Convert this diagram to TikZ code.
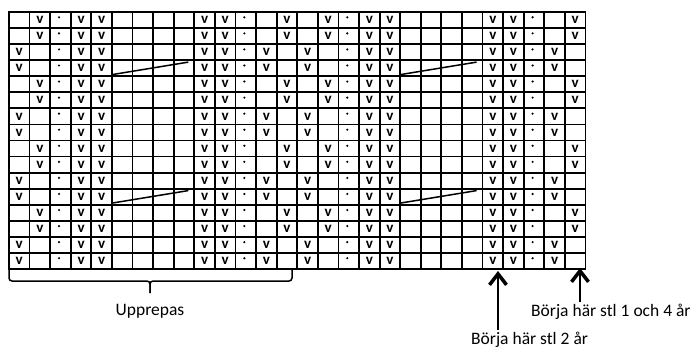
\documentclass[tikz,border=0pt]{standalone}
\usepackage{fontspec}
\setmainfont{Carlito}
\usetikzlibrary{arrows.meta}

\begin{document}
\begin{tikzpicture}[x=1pt,y=-1pt,
		gridline/.style={line width=1.8pt,line cap=rect},
		stitch/.style={font=\fontsize{15}{15}\selectfont\bfseries,inner sep=0pt},
		cable/.style={line width=1.5pt},
		bracket/.style={line width=1.5pt,rounded corners=3pt},
		note/.style={font=\fontsize{17.5}{20}\selectfont,inner sep=1pt},
		startarrow/.style={line width=1.5pt,-{Straight Barb[length=11pt,width=17pt,line width=3.5pt]}}]
		\fill[white] (0,0) rectangle (696,349);
		\useasboundingbox (0,0) rectangle (696,349);
		% chart, 28 stitches x 16 rows
		\begin{scope}[shift={(9,12)},x=20.59pt,y=-16.06pt]
			\foreach \c in {0,...,28} \draw[gridline] (\c,0) -- (\c,16);
			\foreach \r in {0,...,16} \draw[gridline] (0,\r) -- (28,\r);
			\foreach \r in {1,2,5,6,9,10,13,14}
				\foreach \c in {2,4,5,10,11,14,16,18,19,24,25,28}
					\node[stitch] at (\c-0.5,\r-0.5) {v};
			\foreach \r in {3,4,7,8,11,12,15,16}
				\foreach \c in {1,4,5,10,11,13,15,18,19,24,25,27}
					\node[stitch] at (\c-0.5,\r-0.5) {v};
			\foreach \r in {1,...,16}
				\foreach \c in {3,12,17,26}
					\fill (\c-0.57,\r-0.67) circle (1.2pt);
			\foreach \r in {4,12}
				\foreach \c in {5,19}
					\draw[cable] (\c,\r-0.1) -- (\c+3.71,\r-0.88);
		\end{scope}
		% repeat
		\draw[bracket] (9,270) |- (150,281) -- (150,293);
		\draw[bracket] (292,270) |- (150,281) -- (150,293);
		\node[note,anchor=base] (repeat) at (150,315) {Upprepas};
		% start points
		\coordinate (tip2) at (498,271);
		\coordinate (tip14) at (580,268);
		\node[note,anchor=base west] (start2) at (470,344) {Börja här stl 2 år};
		\node[note,anchor=base west] (start14) at (530,316) {Börja här stl 1 och 4 år};
		\draw[startarrow] (start2.north -| tip2) -- (tip2);
		\draw[startarrow] (start14.north -| tip14) -- (tip14);
\end{tikzpicture}
\end{document}
